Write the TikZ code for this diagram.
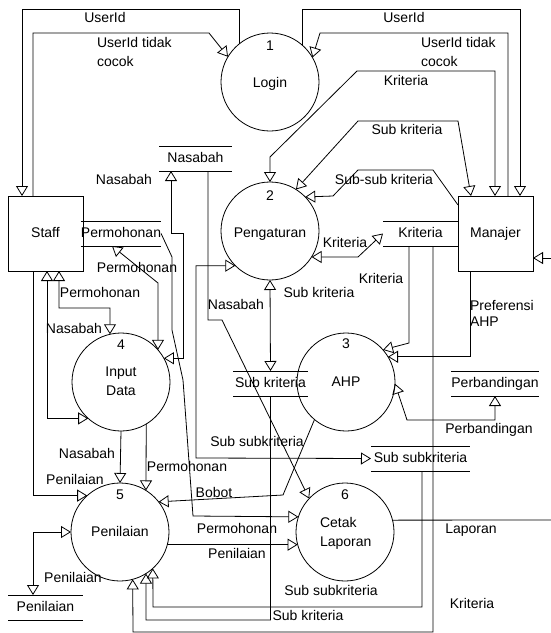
\documentclass[tikz,border=0pt]{standalone}
\usepackage{fontspec}
\setmainfont{Liberation Sans}
\usetikzlibrary{arrows.meta}
\begin{document}
\begin{tikzpicture}[x=1pt,y=-1pt,
  font=\fontsize{14}{16}\selectfont,
  every node/.style={inner sep=0pt, outer sep=0pt},
  >={Triangle[open,length=10pt,width=12pt]},
  flow/.style={draw, line width=0.8pt, ->},
  flowb/.style={draw, line width=0.8pt, <->},
  plain/.style={draw, line width=0.8pt},
  proc/.style={circle, draw, line width=0.8pt, minimum size=98pt},
  ent/.style={rectangle, draw, line width=0.8pt, minimum width=75pt, minimum height=75pt, text height=10pt, text depth=3pt},
  store/.style={minimum width=#1, minimum height=25pt, text height=10pt, text depth=3pt,
    append after command={(\tikzlastnode.north west) edge[line width=0.8pt] (\tikzlastnode.north east)
      (\tikzlastnode.south west) edge[line width=0.8pt] (\tikzlastnode.south east)}},
  lbl/.style={anchor=base},
  mlbl/.style={anchor=north west, align=left}
]
\useasboundingbox (0,0) rectangle (551,633);

% processes
\node[proc] (c1) at (270,82) {};
\node[proc] (c2) at (270,231) {};
\node[proc] (c3) at (346,382) {};
\node[proc] (c4) at (121,382) {};
\node[proc] (c5) at (120,532) {};
\node[proc] (c6) at (345,532) {};
\node[lbl] (n1) at (270,50) {1};
\node[lbl] (t1) at (270,87) {Login};
\node[lbl] (n2) at (270,200) {2};
\node[lbl] (t2) at (270,237) {Pengaturan};
\node[lbl] (n3) at (346,348) {3};
\node[lbl] (t3) at (346,386) {AHP};
\node[lbl] (n4) at (121,349) {4};
\node[anchor=north, align=center, font=\fontsize{14}{19}\selectfont] (t4) at (121,367) {Input\\Data};
\node[lbl] (n5) at (120,499) {5};
\node[lbl] (t5) at (120,536) {Penilaian};
\node[lbl] (n6) at (345,499) {6};
\node[mlbl, font=\fontsize{14}{19}\selectfont] (t6) at (320,517) {Cetak\\Laporan};

% external entities
\node[ent] (staff) at (45.5,233.5) {Staff};
\node[ent] (man) at (495.5,233.5) {Manajer};

% data stores
\node[store=73pt] (nas) at (195.5,158.5) {Nasabah};
\node[store=76pt] (perm) at (121,233.5) {Permohonan};
\node[store=75pt] (krit) at (420.5,233.5) {Kriteria};
\node[store=75pt] (subk) at (270.5,383.5) {Sub kriteria};
\node[store=74pt] (perb) at (495,383.5) {Perbandingan};
\node[store=99pt] (subsub) at (420.5,458.5) {Sub subkriteria};
\node[store=75pt] (pen) at (45.5,607.5) {Penilaian};

\coordinate (extM) at (551,258);
\coordinate (extL) at (551,520);

% connectors
\draw[flow] (c1.129) |- (22,9) -- (staff.north -| 22,0);
\draw[flow] (staff.north -| 33,0) |- (209,33) -- (c1.149);
\draw[flow] (c1.48) |- (520,9) -- (man.north -| 520,0);
\draw[flow] (man.north -| 508,0) |- (320,33) -- (c1.30);
\draw[flowb] (c2.north) -- (270,157) -- (357,71) -| (man.north -| 495,0);
\draw[flowb] (c2.58) -- (358,121) -- (458,121) -- (man.north -| 471,0);
\draw[flow] (man.west |- 0,205) -- (433,170) -- (358,170) -- (333,196) -- (c2.44);
\draw[flowb] (krit.west) -- (358,257) -- (c2.-32);
\draw[flowb] (c2.south) -- (subk.north);
\draw[flow] (krit.south -| 409,0) -- (409,343) -- (c3.41);
\draw[flow] (krit.south -| 433,0) |- (133,632) -- (c5.-75);
\draw[flow] (subk.south) |- (146,620) -- (c5.-58);
\draw[flow] (subsub.south -| 422,0) |- (153,607) -- (c5.-48);
\draw[flow] (man.south -| 470,0) |- (c3.31);
\draw[flow] (extM) -- (man.east |- extM);
\draw[flowb] (c3.-2) -- (407,420) -| (perb.south);
\draw[flowb] (c2.-135) -| (196,458) -- (subsub.west);
\draw[flowb] (nas.south -| 171,0) |- (183,233) |- (c4.29);
\draw[flow] (nas.south -| 208,0) |- (222,320) -- (c6.137);
\draw[flowb] (perm.south -| 112,0) -- (158,283) -- (c4.41);
\draw[flow] (perm.east) -- (172,257) -- (172,330) -- (183,380) -- (193,516) -- (c6.162);
\draw[flowb] (staff.south -| 47,0) |- (c4.-132);
\draw[flowb] (staff.south -| 59,0) |- (110,308) -- (c4.103);
\draw[flow] (staff.south -| 33,0) |- (c5.132);
\draw[flowb] (pen.north -| 33,0) |- (c5.west);
\draw[flow] (c4.south) -- (c5.north);
\draw[flow] (c4.-59) -- (c5.58);
\draw[flow] (c3.-130) -- (283,495) -- (c5.38);
\draw[flow] (c5.-15) -- (c6.195);
\draw[plain] (c6.14) -- (extL);

% flow labels
\node[lbl] (l1) at (105,22) {UserId};
\node[mlbl, font=\fontsize{14}{19}\selectfont] (l2) at (97,37) {UserId tidak\\cocok};
\node[lbl] (l3) at (404,22) {UserId};
\node[mlbl, font=\fontsize{14}{19}\selectfont] (l4) at (421,37) {UserId tidak\\cocok};
\node[lbl] (l5) at (406,85) {Kriteria};
\node[lbl] (l6) at (407,134) {Sub kriteria};
\node[lbl] (l7) at (384,184) {Sub-sub kriteria};
\node[lbl] (l8) at (124,184) {Nasabah};
\node[lbl] (l9) at (345,247) {Kriteria};
\node[lbl] (l10) at (137,272) {Permohonan};
\node[lbl] (l11) at (381,283) {Kriteria};
\node[lbl] (l12) at (319,297) {Sub kriteria};
\node[lbl] (l13) at (100,297) {Permohonan};
\node[lbl] (l14) at (236,309) {Nasabah};
\node[mlbl, font=\fontsize{14}{16.5}\selectfont] (l15) at (470,300) {Preferensi\\AHP};
\node[lbl] (l16) at (74,333) {Nasabah};
\node[lbl] (l17) at (489,433) {Perbandingan};
\node[lbl] (l18) at (257,446) {Sub subkriteria};
\node[lbl] (l19) at (87,458) {Nasabah};
\node[lbl] (l20) at (187,471) {Permohonan};
\node[lbl] (l21) at (75,484) {Penilaian};
\node[lbl] (l22) at (214,497) {Bobot};
\node[lbl] (l23) at (237,533) {Permohonan};
\node[lbl] (l24) at (471,533) {Laporan};
\node[lbl] (l25) at (237,558) {Penilaian};
\node[lbl] (l26) at (73,582) {Penilaian};
\node[lbl] (l27) at (331,595) {Sub subkriteria};
\node[lbl] (l28) at (472,608) {Kriteria};
\node[lbl] (l29) at (308,620) {Sub kriteria};
\end{tikzpicture}
\end{document}
